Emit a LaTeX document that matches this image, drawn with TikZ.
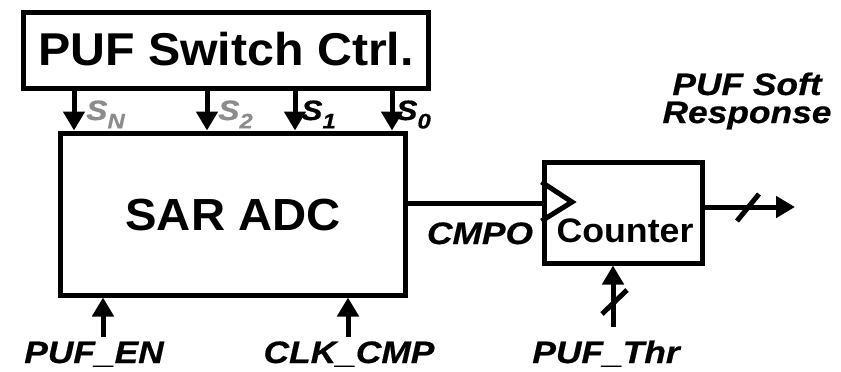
\documentclass[tikz,border=0pt]{standalone}
\usepackage{fontspec}
\setmainfont{Liberation Sans}[FakeStretch=1.05]
\newfontfamily\labfont{Liberation Sans}[FakeStretch=1.14,FakeBold=0.6]
\usetikzlibrary{arrows.meta}
\definecolor{sgray}{HTML}{8C8C8C}
\newcommand{\mysub}[1]{\raisebox{-0.3em}{\fontsize{21}{21}\selectfont #1}}
\tikzset{
  blk/.style={draw, line width=5pt, inner sep=0pt},
  arr/.style={line width=5pt, -{Triangle[length=19pt,width=21pt]}},
  wire/.style={line width=5pt},
  lab/.style={inner sep=0pt, anchor=base, font=\labfont\fontsize{31}{31}\selectfont\bfseries\itshape},
  slab/.style={inner sep=0pt, anchor=base west, font=\labfont\fontsize{28}{28}\selectfont\bfseries\itshape},
}
\begin{document}
\begin{tikzpicture}[x=1pt,y=-1pt]
\useasboundingbox (0,0) rectangle (841,372);
% blocks
\node[blk, minimum width=405pt, minimum height=76pt] (ctrl) at (225.5,50) {};
\node[inner sep=0pt, anchor=base, font=\fontsize{46}{46}\selectfont\bfseries] (ctrltxt) at (226,65) {PUF Switch Ctrl.};
\node[blk, minimum width=345pt, minimum height=162pt] (sar) at (232.5,214) {};
\node[inner sep=0pt, anchor=base, font=\fontsize{45}{45}\selectfont\bfseries] (sartxt) at (233,230) {SAR ADC};
\node[blk, minimum width=158pt, minimum height=101pt] (cnt) at (623,212.5) {};
\node[inner sep=0pt, anchor=base, font=\fontsize{34}{34}\selectfont\bfseries] (cnttxt) at (625,242) {Counter};
% switch control arrows
\draw[arr] (ctrl.south -| 74,0) -- (sar.north -| 74,0);
\draw[arr] (ctrl.south -| 207,0) -- (sar.north -| 207,0);
\draw[arr] (ctrl.south -| 295,0) -- (sar.north -| 295,0);
\draw[arr] (ctrl.south -| 392,0) -- (sar.north -| 392,0);
\node[slab, text=sgray] (sn) at (86,120) {S\mysub{N}};
\node[slab, text=sgray] (s2) at (218,120) {S\mysub{2}};
\node[slab] (s1) at (301,120) {S\mysub{1}};
\node[slab] (s0) at (396,120) {S\mysub{0}};
% bottom inputs
\node[lab] (puben) at (94,363) {PUF\_EN};
\node[lab] (clkcmp) at (349,363) {CLK\_CMP};
\coordinate (enst) at (103,337);
\coordinate (clkst) at (348,337);
\draw[arr] (enst) -- (sar.south -| enst);
\draw[arr] (clkst) -- (sar.south -| clkst);
% CMPO
\draw[wire] (sar.east |- 0,203) -- (cnt.west |- 0,203);
\node[lab] (cmpo) at (480,244) {CMPO};
\draw[line width=5pt, line join=miter] (cnt.west |- 0,182) -- (572,202) -- (cnt.west |- 0,221);
% output
\coordinate (outend) at (795,207);
\draw[arr] (cnt.east |- outend) -- (outend);
\draw[wire] (737,221) -- (759,194);
\node[inner sep=0pt, anchor=base, align=center, font=\labfont\fontsize{31}{28}\selectfont\bfseries\itshape] (soft) at (747,123) {PUF Soft\\Response};
% threshold
\coordinate (thrst) at (613,327);
\draw[arr] (thrst) -- (cnt.south -| thrst);
\draw[wire] (602,314) -- (627,290);
\node[lab] (thr) at (606,363) {PUF\_Thr};
\end{tikzpicture}
\end{document}
